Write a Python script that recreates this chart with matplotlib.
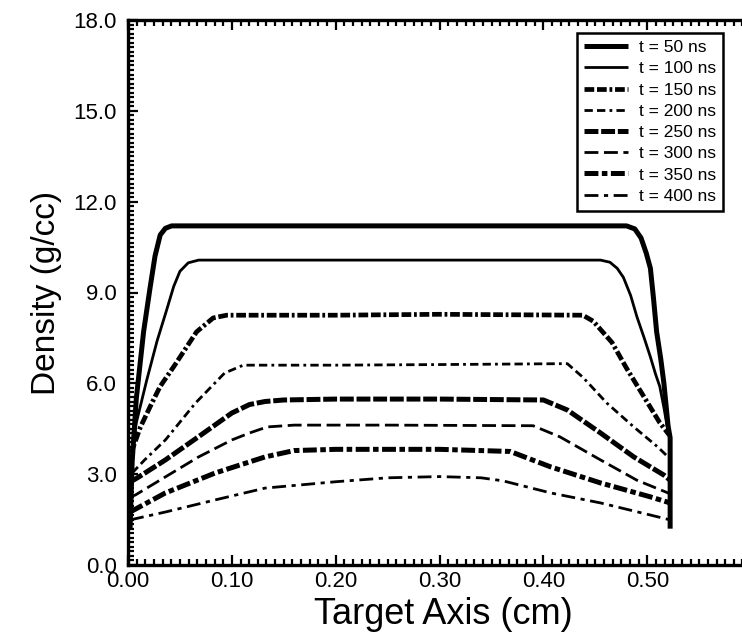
import matplotlib
matplotlib.use('Agg')
import matplotlib.pyplot as plt
from matplotlib.ticker import MultipleLocator, AutoMinorLocator, FuncFormatter, FormatStrFormatter

# density profiles along the target axis
x_50 = [0.002, 0.004, 0.008, 0.015, 0.021, 0.026, 0.031, 0.036, 0.042, 0.050, 0.20, 0.35,
        0.480, 0.488, 0.494, 0.499, 0.503, 0.506, 0.509, 0.513, 0.516, 0.520, 0.522, 0.522]
y_50 = [1.2, 3.4, 5.5, 7.7, 9.1, 10.2, 10.9, 11.12, 11.2, 11.2, 11.2, 11.2,
        11.2, 11.1, 10.8, 10.3, 9.8, 8.8, 7.7, 6.8, 6.0, 4.6, 4.2, 1.2]

x_100 = [0.003, 0.008, 0.018, 0.028, 0.037, 0.044, 0.050, 0.058, 0.068, 0.20, 0.35, 0.455,
         0.464, 0.471, 0.477, 0.484, 0.490, 0.497, 0.503, 0.508, 0.512, 0.516, 0.519, 0.522]
y_100 = [3.5, 4.7, 6.1, 7.4, 8.4, 9.2, 9.7, 9.98, 10.07, 10.07, 10.07, 10.07,
         10.0, 9.8, 9.5, 8.9, 8.2, 7.5, 6.87, 6.3, 5.9, 5.2, 4.6, 4.2]

x_150 = [0.003, 0.012, 0.023, 0.031, 0.045, 0.066, 0.082, 0.095, 0.20, 0.30, 0.438,
         0.448, 0.466, 0.480, 0.496, 0.512, 0.521]
y_150 = [3.7, 4.56, 5.35, 5.9, 6.6, 7.7, 8.16, 8.25, 8.25, 8.28, 8.25,
         8.05, 7.35, 6.5, 5.6, 4.7, 4.3]

x_200 = [0.004, 0.016, 0.036, 0.065, 0.093, 0.111, 0.20, 0.30, 0.423,
         0.438, 0.461, 0.487, 0.510, 0.520, 0.522]
y_200 = [3.04, 3.47, 4.13, 5.35, 6.34, 6.6, 6.6, 6.62, 6.65,
         6.2, 5.35, 4.56, 3.9, 3.57, 3.5]

x_250 = [0.002, 0.010, 0.036, 0.068, 0.100, 0.117, 0.132, 0.150, 0.20, 0.30, 0.400,
         0.423, 0.455, 0.487, 0.516, 0.522]
y_250 = [2.74, 2.9, 3.47, 4.24, 5.02, 5.3, 5.4, 5.45, 5.48, 5.48, 5.45,
         5.12, 4.36, 3.57, 2.97, 2.8]

x_300 = [0.002, 0.007, 0.036, 0.068, 0.100, 0.117, 0.134, 0.160, 0.25, 0.390,
         0.416, 0.455, 0.490, 0.520, 0.522]
y_300 = [2.25, 2.31, 2.91, 3.57, 4.13, 4.36, 4.56, 4.62, 4.62, 4.6,
         4.23, 3.47, 2.8, 2.38, 2.35]

x_350 = [0.002, 0.036, 0.084, 0.132, 0.160, 0.20, 0.30, 0.368,
         0.407, 0.455, 0.503, 0.522]
y_350 = [1.75, 2.38, 3.04, 3.57, 3.78, 3.82, 3.82, 3.75,
         3.24, 2.71, 2.25, 2.05]

x_400 = [0.002, 0.036, 0.084, 0.132, 0.20, 0.25, 0.30, 0.34, 0.361,
         0.407, 0.455, 0.503, 0.522]
y_400 = [1.49, 1.75, 2.15, 2.54, 2.75, 2.88, 2.92, 2.88, 2.78,
         2.38, 2.05, 1.65, 1.49]

labels = ["t = 50 ns", "t = 100 ns", "t = 150 ns", "t = 200 ns",
          "t = 250 ns", "t = 300 ns", "t = 350 ns", "t = 400 ns"]
curves = [(x_50, y_50), (x_100, y_100), (x_150, y_150), (x_200, y_200),
          (x_250, y_250), (x_300, y_300), (x_350, y_350), (x_400, y_400)]

# (linewidth, dash pattern in points)
styles = [
    (3.6, '-'),
    (2.0, '-'),
    (3.4, (0, (7, 2, 7, 2, 2, 2))),
    (2.0, (0, (6, 3, 6, 3, 2, 3))),
    (3.6, (0, (10, 2))),
    (2.0, (0, (10, 4))),
    (3.6, (0, (10, 2.5, 4, 2.5))),
    (2.0, (0, (10, 4, 3, 4))),
]

plt.rcParams.update({"font.family": "Liberation Sans", "lines.scale_dashes": False})

fig = plt.figure(figsize=(7.42, 6.32), dpi=100)
# axes run past the right edge of the picture, as in the cropped original
ax = fig.add_axes([128 / 742, 67 / 632, 727 / 742, 545 / 632])

for (xs, ys), lab, (lw, ls) in zip(curves, labels, styles):
    ax.plot(xs, ys, color="black", linewidth=lw, linestyle=ls, label=lab,
            solid_capstyle="butt", dash_capstyle="butt")

ax.set_xlim(0, 0.7)
ax.set_ylim(0, 18)
ax.xaxis.set_major_locator(MultipleLocator(0.1))
ax.xaxis.set_minor_locator(AutoMinorLocator(12))
ax.yaxis.set_major_locator(MultipleLocator(3))
ax.yaxis.set_minor_locator(AutoMinorLocator(20))
ax.xaxis.set_major_formatter(FuncFormatter(lambda v, p: f"{v:.2f}" if v < 0.55 else ""))
ax.yaxis.set_major_formatter(FormatStrFormatter("%.1f"))
ax.tick_params(which="both", direction="in", top=True, right=True, width=1.6,
               labelsize=16)
ax.tick_params(axis="x", pad=4)
ax.tick_params(axis="y", pad=8)
ax.tick_params(which="major", length=7)
ax.tick_params(which="minor", length=4)
for sp in ax.spines.values():
    sp.set_linewidth(2.4)

ax.set_xlabel("Target Axis (cm)", fontsize=26)
ax.xaxis.set_label_coords((443 - 128) / 727, -0.058)
ax.set_ylabel("Density (g/cc)", fontsize=24)
ax.yaxis.set_label_coords((62 - 128) / 727, 0.5)

leg = ax.legend(loc="upper right", bbox_to_anchor=(595 / 727, 0.976), borderaxespad=0,
                fontsize=12.5, handlelength=2.5, handletextpad=0.65, labelspacing=0.35,
                fancybox=False, framealpha=1, edgecolor="black", borderpad=0.4)
leg.get_frame().set_linewidth(1.8)

fig.savefig("out.png", dpi=100)
